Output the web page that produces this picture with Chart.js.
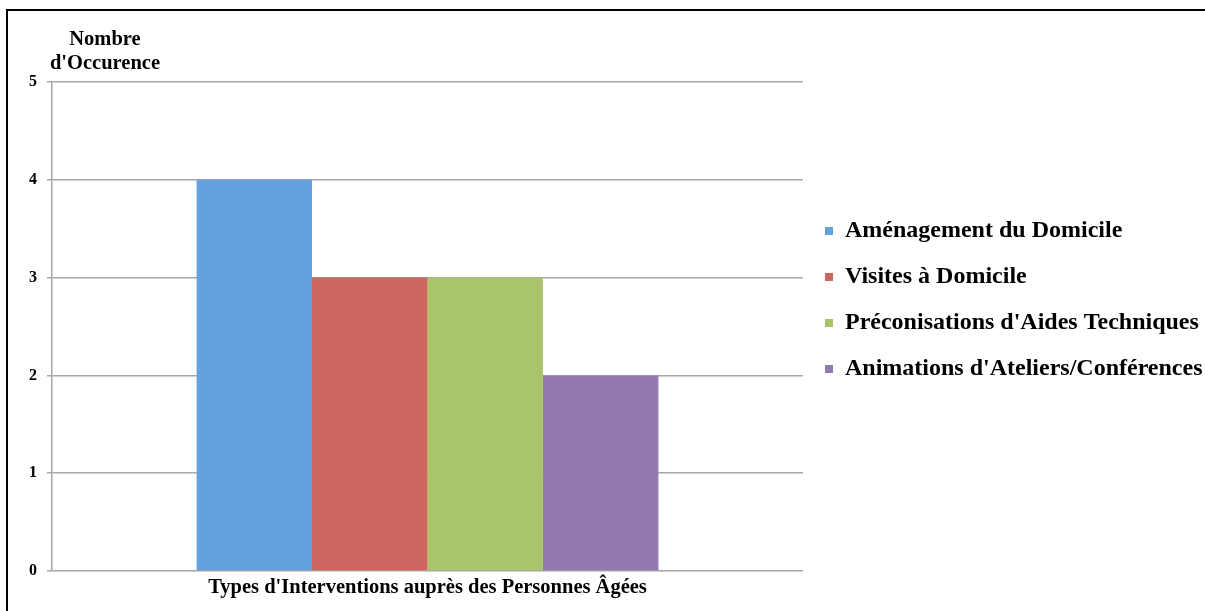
<!DOCTYPE html>
<html>
<head>
<meta charset="utf-8">
<script src="https://cdn.jsdelivr.net/npm/chart.js@4"></script>
<style>
  body { margin: 0; background: #fff; }
  #wrap { position: absolute; left: 0; top: 0; width: 1205px; height: 611px; }
  #frame { position: absolute; left: 6px; top: 9px; width: 1300px; height: 700px; border: 2px solid #000; pointer-events: none; }
</style>
</head>
<body>
<div id="wrap"><canvas id="chart" width="1205" height="611"></canvas></div>
<div id="frame"></div>
<script>
const categories = ["Types d'Interventions auprès des Personnes Âgées"];
const seriesNames = ["Aménagement du Domicile", "Visites à Domicile", "Préconisations d'Aides Techniques", "Animations d'Ateliers/Conférences"];
const seriesValues = [[4], [3], [3], [2]];
const seriesColors = ['#65a1dd', '#cc665e', '#aac46c', '#927ab1'];
const yTitleLines = ['Nombre', "d'Occurence"];

const serif = "'Liberation Serif', 'Times New Roman', serif";

// horizontal axis title above the y axis
const yTitlePlugin = {
    id: 'yTitle',
    afterDraw(chart) {
        const ctx = chart.ctx;
        ctx.save();
        ctx.font = 'bold 20.5px ' + serif;
        ctx.fillStyle = '#000';
        ctx.textAlign = 'center';
        ctx.textBaseline = 'alphabetic';
        ctx.fillText(yTitleLines[0], 105, 45);
        ctx.fillText(yTitleLines[1], 105, 69);
        ctx.restore();
    }
};

const chartCtx = document.getElementById('chart').getContext('2d');
new Chart(chartCtx, {
    type: 'bar',
    data: {
        labels: categories,
        datasets: seriesNames.map((name, i) => ({
            label: name,
            data: seriesValues[i],
            backgroundColor: seriesColors[i],
            borderWidth: 0,
            barPercentage: 1,
            categoryPercentage: 0.615
        }))
    },
    options: {
        responsive: false,
        animation: false,
        layout: { padding: { top: 82, left: 0, right: 0, bottom: 0 } },
        plugins: {
            tooltip: { enabled: false },
            legend: {
                position: 'right',
                align: 'start',
                maxWidth: 402,
                title: { display: true, text: '', padding: { top: 100.6, bottom: 0 } },
                labels: {
                    boxWidth: 8,
                    boxHeight: 8,
                    padding: 22,
                    color: '#000',
                    font: { family: serif, size: 24, weight: 'bold' }
                }
            }
        },
        scales: {
            x: {
                grid: { display: false, drawTicks: false },
                border: { display: false },
                ticks: { color: '#000', padding: 4, font: { family: serif, size: 20.5, weight: 'bold' } },
                afterFit(s) { s.height = 40; }
            },
            y: {
                min: 0,
                max: 5,
                ticks: { stepSize: 1, color: '#000', padding: 10, font: { family: serif, size: 16, weight: 'bold' } },
                grid: { color: '#a6a6a6', lineWidth: 1.5, tickLength: 5 },
                border: { color: '#a6a6a6', width: 1.5 },
                afterFit(s) { s.width = 52; }
            }
        }
    },
    plugins: [yTitlePlugin]
});
</script>
</body>
</html>
